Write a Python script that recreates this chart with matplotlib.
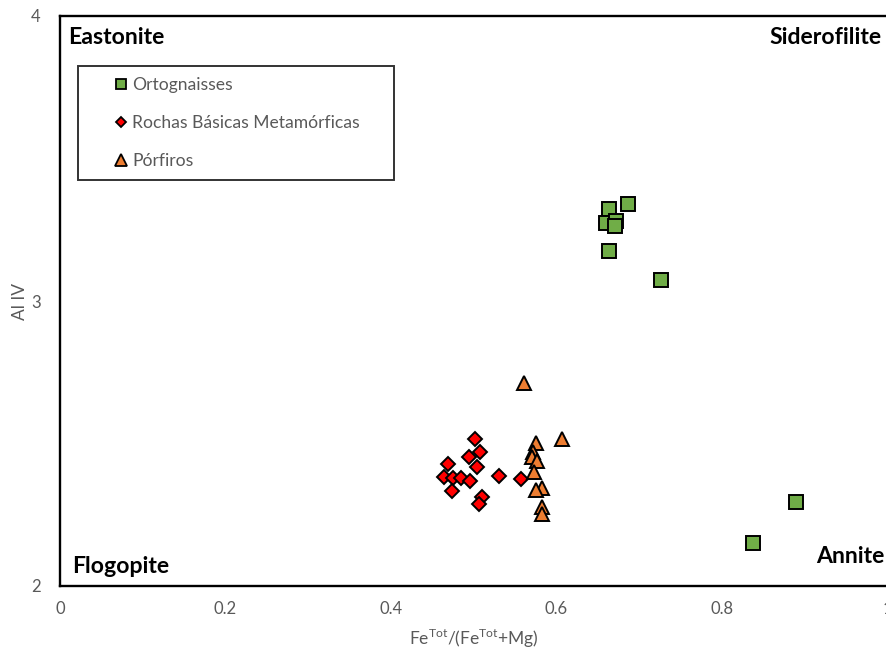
import matplotlib
matplotlib.use("Agg")
import matplotlib.pyplot as plt
from matplotlib.lines import Line2D

# Fe_tot/(Fe_tot+Mg) vs Al IV for biotites
orto_x = [0.663, 0.687, 0.660, 0.672, 0.671, 0.663, 0.726, 0.889, 0.837]
orto_y = [3.322, 3.339, 3.275, 3.282, 3.263, 3.176, 3.074, 2.296, 2.150]

basic_x = [0.501, 0.507, 0.494, 0.469, 0.504, 0.464, 0.475, 0.485, 0.496,
           0.531, 0.557, 0.474, 0.510, 0.506]
basic_y = [2.517, 2.471, 2.454, 2.429, 2.418, 2.384, 2.378, 2.380, 2.368,
           2.386, 2.375, 2.333, 2.313, 2.288]

porf_x = [0.561, 0.607, 0.575, 0.572, 0.570, 0.577, 0.573, 0.583, 0.575,
          0.582, 0.583]
porf_y = [2.711, 2.515, 2.503, 2.471, 2.452, 2.439, 2.401, 2.345, 2.337,
          2.278, 2.253]

series_labels = ["Ortognaisses", "Rochas Básicas Metamórficas", "Pórfiros"]
x_ticks = [0, 0.2, 0.4, 0.6, 0.8, 1]
x_tick_labels = ["0", "0.2", "0.4", "0.6", "0.8", "1"]
y_ticks = [2, 3, 4]
y_tick_labels = ["2", "3", "4"]

corner_labels = ["Eastonite", "Siderofilite", "Flogopite", "Annite"]

FONT = ["Lato", "DejaVu Sans"]
GRAY = "#595959"

fig = plt.figure(figsize=(8.87, 6.55), dpi=100)
ax = fig.add_axes([60 / 887, 1 - 586 / 655, 827.5 / 887, 570 / 655])
ax.set_xlim(0, 1)
ax.set_ylim(2, 4)

ax.plot(orto_x, orto_y, ls="none", marker="s", ms=10.5, mfc="#70AD47",
        mec="black", mew=1.4, zorder=3)
ax.plot(basic_x, basic_y, ls="none", marker="D", ms=7.2, mfc="#FF0000",
        mec="black", mew=1.4, zorder=3)
ax.plot(porf_x, porf_y, ls="none", marker="^", ms=9.8, mfc="#ED7D31",
        mec="black", mew=1.4, zorder=3)

for s in ax.spines.values():
    s.set_color("black")
    s.set_linewidth(1.7)

ax.set_xticks(x_ticks)
ax.set_xticklabels(x_tick_labels)
ax.set_yticks(y_ticks)
ax.set_yticklabels(y_tick_labels)
ax.tick_params(length=0, pad=11, labelsize=12, labelcolor=GRAY)
ax.tick_params(axis="y", pad=14)
for lbl in ax.get_xticklabels() + ax.get_yticklabels():
    lbl.set_family(FONT)

ax.set_xlabel("Fe$^{\\mathregular{Tot}}$/(Fe$^{\\mathregular{Tot}}$+Mg)",
              fontsize=12.5, color=GRAY, family=FONT, labelpad=7)
ax.set_ylabel("Al IV", fontsize=12.5, color=GRAY, family=FONT, labelpad=2)

bold = dict(fontsize=16.6, fontweight="bold", color="black", family=FONT,
            va="center")
ax.text(0.0097, 3.923, corner_labels[0], ha="left", **bold)
ax.text(0.9934, 3.923, corner_labels[1], ha="right", **bold)
ax.text(0.0145, 2.070, corner_labels[2], ha="left", **bold)
ax.text(0.9958, 2.102, corner_labels[3], ha="right", **bold)

handles = [
    Line2D([], [], ls="none", marker="s", ms=7.5, mfc="#70AD47", mec="black", mew=1.3),
    Line2D([], [], ls="none", marker="D", ms=5.2, mfc="#FF0000", mec="black", mew=1.3),
    Line2D([], [], ls="none", marker="^", ms=8, mfc="#ED7D31", mec="black", mew=1.3),
]
leg = ax.legend(handles, series_labels, loc="upper left",
                bbox_to_anchor=(0.02175, 0.714, 0.3819, 0.1983),
                mode="expand", frameon=True, fancybox=False,
                borderpad=0.65, labelspacing=1.25, handlelength=3.65,
                handletextpad=-1.2, borderaxespad=0,
                prop={"family": FONT, "size": 12.6})
leg.get_frame().set_edgecolor("black")
leg.get_frame().set_linewidth(1.4)
for t in leg.get_texts():
    t.set_color(GRAY)
leg.set_zorder(4)

fig.savefig("out.png", dpi=100)
